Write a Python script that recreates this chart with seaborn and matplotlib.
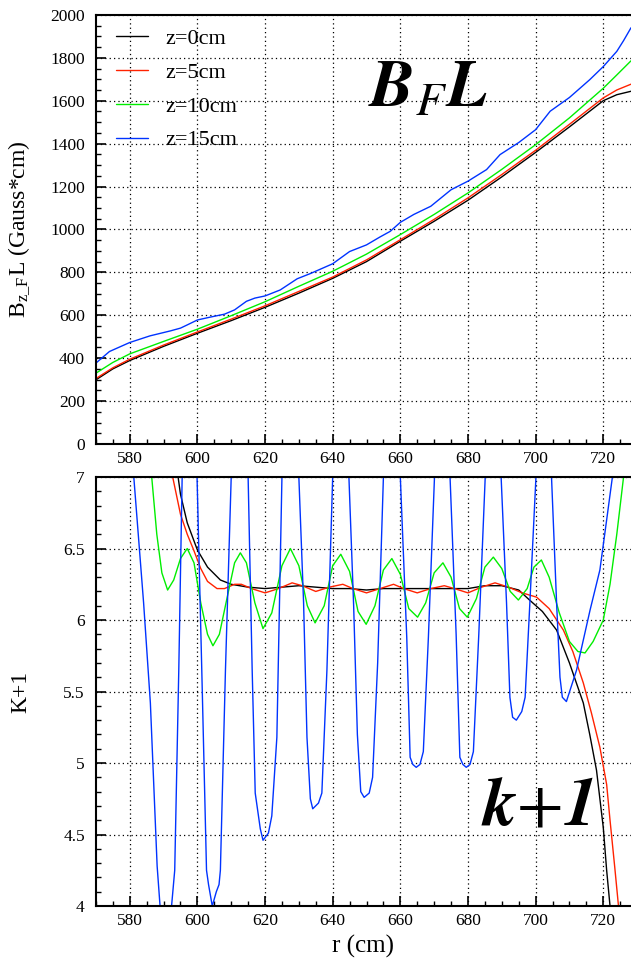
import pandas as pd
import matplotlib
matplotlib.use("Agg")
import matplotlib.pyplot as plt
from matplotlib.lines import Line2D
from matplotlib.ticker import MultipleLocator, FormatStrFormatter
import seaborn as sns

# --- datos ---
etiquetas = ["z=0cm", "z=5cm", "z=10cm", "z=15cm"]
colores = ["#000000", "#ff2200", "#00ee00", "#0033ff"]

# panel superior: B_F L
r_top = [570, 575, 580, 590, 600, 610, 620, 630, 640, 650, 660, 670, 680, 690, 700, 710, 720, 724, 728.2]
bfl_z0 = [299, 350, 389, 455, 516, 575, 637, 703, 772, 850, 945, 1038, 1136, 1245, 1359, 1478, 1600, 1628, 1644]
bfl_z5 = [305, 355, 395, 461, 522, 582, 644, 711, 778, 858, 952, 1047, 1147, 1256, 1369, 1490, 1613, 1650, 1677]
bfl_z10 = [330, 380, 420, 478, 535, 598, 663, 735, 805, 885, 976, 1070, 1170, 1280, 1395, 1520, 1658, 1720, 1786]
r_top_z15 = [570, 574, 580, 586, 592, 595, 597, 600, 604, 608, 611, 614.5, 617, 620, 624.5, 629.5, 633.5, 640,
             645, 650, 654, 657, 660, 664, 669, 675, 680, 685.5, 689.5, 695, 700, 704.3, 710, 716, 720, 724, 726, 728.2]
bfl_z15 = [377, 431, 473, 504, 527, 540, 555, 578, 592, 605, 625, 665, 680, 690, 718, 770, 795, 840,
           897, 928, 965, 991, 1033, 1070, 1108, 1185, 1225, 1279, 1349, 1405, 1465, 1551, 1615, 1698, 1759, 1830, 1880, 1940]

# panel inferior: k+1
r_k_z0 = [588, 592, 594.3, 595, 597, 600, 603, 606.8, 610, 615, 620, 625, 630, 635, 640, 645, 650, 655, 660, 665,
          670, 675, 680, 685, 690, 695, 698.2, 702, 706.2, 710, 714.1, 716, 718, 720, 721, 722, 723]
k_z0 = [7.9, 7.3, 7.0, 6.88, 6.68, 6.49, 6.37, 6.28, 6.25, 6.23, 6.22, 6.23, 6.24, 6.23, 6.22, 6.22, 6.21, 6.22, 6.22, 6.22,
        6.22, 6.22, 6.22, 6.24, 6.24, 6.21, 6.14, 6.06, 5.93, 5.7, 5.42, 5.2, 4.95, 4.55, 4.25, 4.0, 3.7]
r_k_z5 = [588, 592.7, 595, 597, 598.9, 601, 603, 605.8, 608, 611, 613, 616, 620, 624, 628, 631, 635, 639, 643, 646,
          650, 654, 658, 661, 665, 669, 673, 676, 680, 684, 688, 692, 696, 700.3, 704, 708.2, 711, 714.1, 716.5,
          719, 721, 722, 723.4, 724.5, 725.5]
k_z5 = [7.5, 7.0, 6.74, 6.6, 6.49, 6.36, 6.27, 6.22, 6.22, 6.25, 6.25, 6.22, 6.19, 6.22, 6.26, 6.24, 6.2, 6.23, 6.25, 6.22,
        6.19, 6.22, 6.25, 6.22, 6.19, 6.22, 6.24, 6.22, 6.19, 6.23, 6.26, 6.23, 6.19, 6.16, 6.08, 5.93, 5.78, 5.56, 5.35,
        5.11, 4.85, 4.6, 4.27, 4.0, 3.7]
r_k_z10 = [583, 586.5, 588, 589.5, 591.2, 593, 595, 597, 599, 601, 603, 604.6, 606.5, 609, 611, 612.7, 614.5, 617,
           619.4, 622, 625, 627.5, 630, 632.5, 634.8, 637.5, 640, 642.4, 645, 647.5, 649.9, 652.5, 655, 657.5, 660,
           662.5, 665.1, 667.5, 670, 672.6, 675, 677.5, 679.8, 682.5, 685, 687.5, 690, 692.5, 694.9, 697.5, 699.5,
           701.7, 704, 707, 710, 712.5, 714.6, 717, 720, 722, 724, 726, 728.2]
k_z10 = [7.8, 7.0, 6.6, 6.33, 6.21, 6.28, 6.43, 6.5, 6.4, 6.12, 5.9, 5.82, 5.9, 6.18, 6.4, 6.47, 6.4, 6.12,
         5.94, 6.05, 6.38, 6.5, 6.38, 6.1, 5.98, 6.1, 6.38, 6.46, 6.34, 6.06, 5.97, 6.1, 6.35, 6.43, 6.32,
         6.08, 6.02, 6.12, 6.33, 6.4, 6.3, 6.08, 6.02, 6.15, 6.37, 6.44, 6.36, 6.2, 6.14, 6.22, 6.37,
         6.42, 6.3, 6.05, 5.85, 5.78, 5.77, 5.85, 6.0, 6.25, 6.6, 7.0, 7.4]
r_k_z15 = [570, 576, 579, 581.2, 584.1, 586.1, 588.1, 590.5, 593.3, 594.5, 595.5, 597.7, 599.9, 601.3, 602.7, 603.3,
           604.4, 605.6, 606.4, 606.8, 608.3, 610, 612.5, 615, 616.2, 617.1, 618.6, 619.4, 621, 622, 623.5, 625,
           627.5, 630, 631.4, 632.4, 633.4, 634.1, 635.8, 636.8, 638.3, 640, 642.4, 644.8, 646.2, 647.3, 648.3,
           649.3, 650.8, 651.8, 653.3, 655, 657.5, 660, 661.9, 662.9, 663.7, 664.7, 665.8, 666.8, 668.3, 670.1,
           672.4, 674.7, 676.5, 677.6, 678.5, 679.5, 680.6, 681.6, 683.2, 685.1, 687.5, 689.8, 691.4, 692.4,
           693.2, 694.3, 695.9, 696.9, 698.3, 700.1, 702.4, 704.7, 706.2, 707.2, 707.9, 709.1, 712.1, 716.1,
           719, 721, 722.7, 725, 728.2]
k_z15 = [9.5, 8.6, 7.6, 7.0, 6.12, 5.42, 4.28, 3.5, 4.25, 5.65, 7.0, 8.0, 7.0, 5.65, 4.25, 4.15,
         4.0, 4.1, 4.15, 4.25, 5.65, 7.0, 8.0, 7.0, 5.65, 4.79, 4.54, 4.46, 4.51, 4.63, 5.18, 7.0,
         8.0, 7.0, 6.12, 5.18, 4.75, 4.68, 4.72, 4.79, 5.65, 7.0, 8.0, 7.0, 6.1, 5.2, 4.8,
         4.76, 4.79, 4.9, 5.7, 7.0, 8.0, 7.0, 5.88, 5.04, 4.99, 4.97, 4.99, 5.08, 5.88, 7.0,
         8.0, 7.0, 5.9, 5.04, 4.99, 4.97, 4.99, 5.08, 5.9, 7.0, 8.0, 7.0, 6.12, 5.46,
         5.32, 5.30, 5.36, 5.46, 6.12, 7.0, 8.0, 7.0, 6.12, 5.6, 5.46, 5.43, 5.65, 6.07,
         6.35, 6.7, 7.0, 7.6, 8.3]


def tabla(pares):
    partes = []
    for et, r, v in pares:
        partes.append(pd.DataFrame({"r": r, "v": v, "z": et}))
    return pd.concat(partes, ignore_index=True)


df_top = tabla([(etiquetas[0], r_top, bfl_z0), (etiquetas[1], r_top, bfl_z5),
                (etiquetas[2], r_top, bfl_z10), (etiquetas[3], r_top_z15, bfl_z15)])
df_bot = tabla([(etiquetas[0], r_k_z0, k_z0), (etiquetas[1], r_k_z5, k_z5),
                (etiquetas[2], r_k_z10, k_z10), (etiquetas[3], r_k_z15, k_z15)])

sns.set_theme(style="ticks")
plt.rcParams["font.family"] = ["Liberation Serif", "DejaVu Serif"]
plt.rcParams["mathtext.fontset"] = "stix"
plt.rcParams["axes.edgecolor"] = "black"
plt.rcParams["text.color"] = "black"
plt.rcParams["axes.labelcolor"] = "black"
plt.rcParams["xtick.color"] = "black"
plt.rcParams["ytick.color"] = "black"

fig = plt.figure(figsize=(6.31, 9.61), dpi=100)
ax1 = fig.add_axes([0.152, 0.538, 0.848, 0.4465])
ax2 = fig.add_axes([0.152, 0.0572, 0.848, 0.4464])

paleta = dict(zip(etiquetas, colores))
for ax, df in [(ax1, df_top), (ax2, df_bot)]:
    sns.lineplot(data=df, x="r", y="v", hue="z", palette=paleta, estimator=None,
                 sort=False, linewidth=1.0, legend=False, ax=ax)
    ax.set_xlim(570, 728.2)
    ax.xaxis.set_major_locator(MultipleLocator(20))
    ax.xaxis.set_minor_locator(MultipleLocator(5))
    ax.grid(True, which="major", color="black", linestyle=(0, (1, 2.5)), linewidth=0.9)
    ax.tick_params(which="both", direction="in", labelsize=12.5, colors="black")
    ax.tick_params(which="major", length=7, width=1.2)
    ax.tick_params(which="minor", length=3.5, width=1.0)
    ax.tick_params(axis="y", pad=8)
    ax.tick_params(axis="x", pad=5)
    ax.spines["right"].set_visible(False)
    for s in ["left", "bottom", "top"]:
        ax.spines[s].set_linewidth(1.5)
    ax.set_xlabel("")

ax1.set_ylim(0, 2000)
ax1.yaxis.set_major_locator(MultipleLocator(200))
ax1.yaxis.set_minor_locator(MultipleLocator(50))
ax1.set_ylabel(r"B$_{\mathregular{z\_F}}$L (Gauss*cm)", fontsize=17)
ax1.yaxis.set_label_coords(-0.12, 0.5)

ax2.set_ylim(4, 7)
ax2.yaxis.set_major_locator(MultipleLocator(0.5))
ax2.yaxis.set_minor_locator(MultipleLocator(0.1))
ax2.yaxis.set_major_formatter(FormatStrFormatter("%g"))
ax2.set_ylabel("K+1", fontsize=17)
ax2.yaxis.set_label_coords(-0.12, 0.5)
ax2.set_xlabel("r (cm)", fontsize=18, labelpad=4)

# leyenda
manijas = [Line2D([], [], color=c, linewidth=1.0) for c in colores]
ax1.legend(manijas, etiquetas, loc="upper left", bbox_to_anchor=(0.012, 1.0), frameon=False,
           fontsize=16, handlelength=1.45, handletextpad=0.8, labelspacing=0.6, borderaxespad=0.2)

# textos grandes
ax1.text(0.508, 0.788, r"$\mathbfit{B}_{\mathit{F}}\mathbfit{L}$", transform=ax1.transAxes,
         fontsize=48, ha="left", va="baseline", color="black")
ax2.text(0.72, 0.189, r"$\mathbfit{k}\mathrm{+}\mathbfit{1}$", transform=ax2.transAxes,
         fontsize=49, ha="left", va="baseline", color="black")

fig.savefig("out.png", dpi=100)
